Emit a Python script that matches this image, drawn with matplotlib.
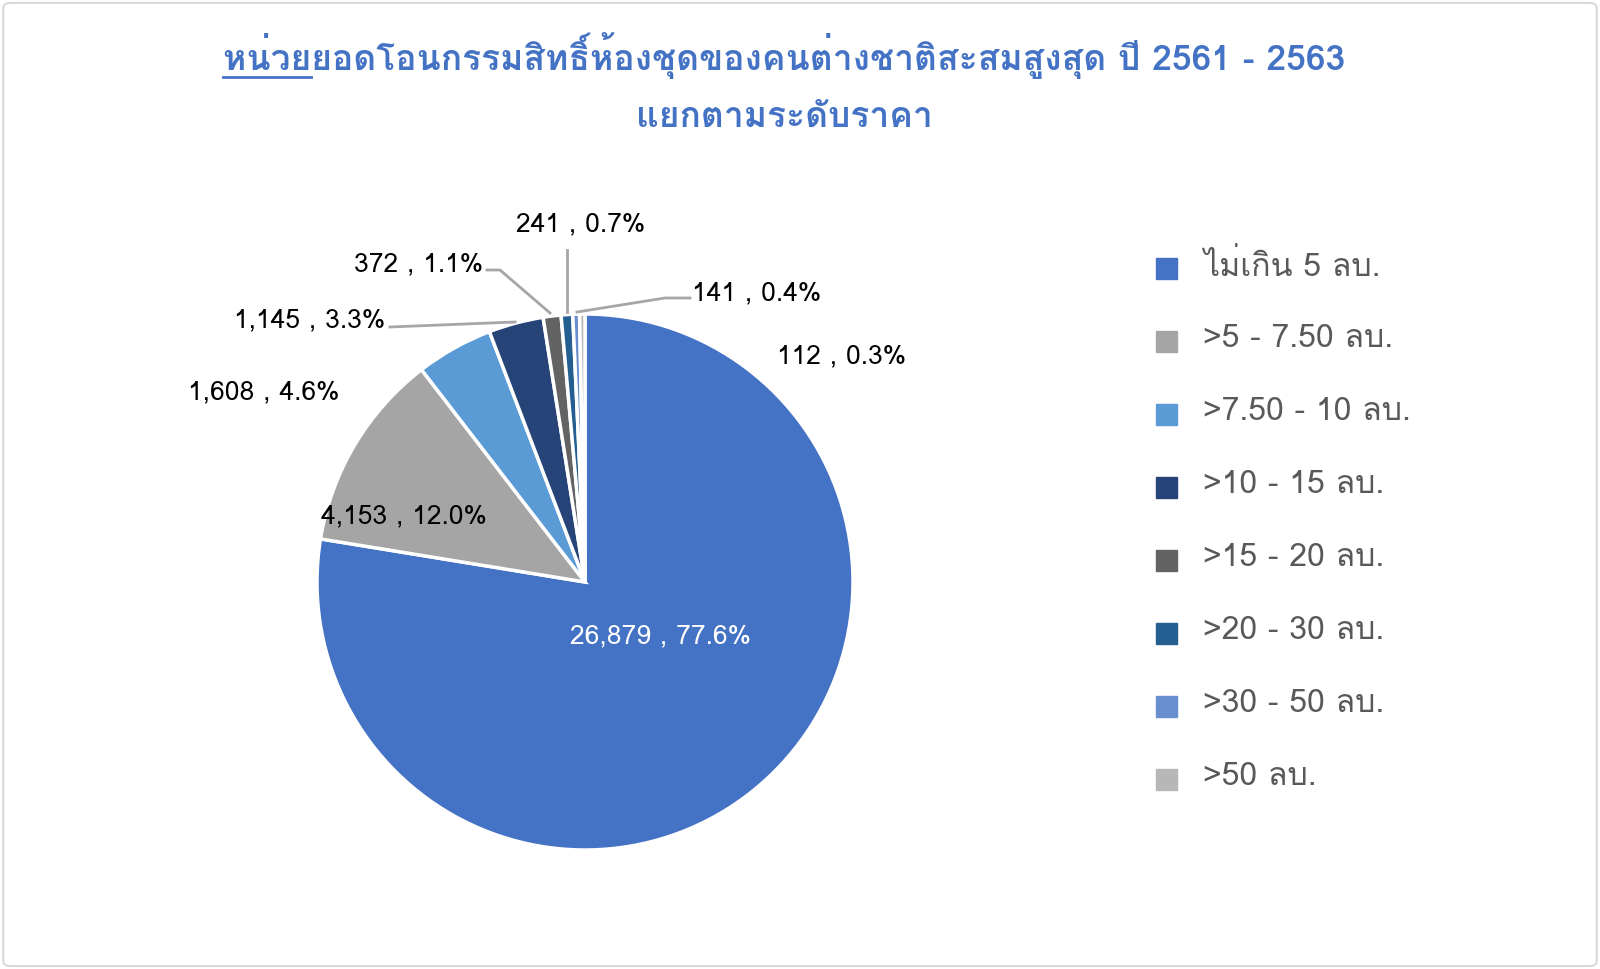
import matplotlib
matplotlib.use("Agg")
import matplotlib.pyplot as plt
from matplotlib import font_manager
from matplotlib.patches import Rectangle, FancyBboxPatch
from fontTools.ttLib import TTFont

# หาฟอนต์ที่มีอักษรไทย
thai_fams = []
for f in font_manager.fontManager.ttflist:
    try:
        tt = TTFont(f.fname, fontNumber=0, lazy=True)
        cmap = tt.getBestCmap()
        if cmap and 0x0E2B in cmap and f.name not in thai_fams:
            thai_fams.append(f.name)
    except Exception:
        pass
fams = thai_fams[:1] + ['Liberation Sans', 'DejaVu Sans']
plt.rcParams['font.family'] = fams

categories = ['ไม่เกิน 5 ลบ.', '>5 - 7.50 ลบ.', '>7.50 - 10 ลบ.', '>10 - 15 ลบ.',
              '>15 - 20 ลบ.', '>20 - 30 ลบ.', '>30 - 50 ลบ.', '>50 ลบ.']
units = [26879, 4153, 1608, 1145, 372, 241, 141, 112]
colors = ['#4472C4', '#A5A5A5', '#5B9BD5', '#264478', '#636363', '#255E91', '#698ED0', '#B7B7B7']

W, H = 1600, 969
fig = plt.figure(figsize=(16, 9.69), dpi=100)
ax = fig.add_axes([0, 0, 1, 1])

cx, cy, r = 585, H - 582, 268
wedges, _ = ax.pie(units, colors=colors, startangle=90, counterclock=False,
                   center=(cx, cy), radius=r,
                   wedgeprops=dict(edgecolor='white', linewidth=2.5))
ax.set_xlim(0, W)
ax.set_ylim(0, H)
ax.set_aspect('equal')
ax.axis('off')

total = sum(units)
labels = [f"{v:,} , {v / total * 100:.1f}%" for v in units]

# ตำแหน่งป้าย (พิกเซล)
lab_pos = [(660, 636), (404, 516), (264, 392), (310, 320), (419, 264), (581, 224), (757, 293), (842, 356)]
lead = {
    3: [(390, 327), (515, 322)],
    4: [(487, 270), (500, 270), (550, 313)],
    5: [(567, 250), (567, 312)],
    6: [(577, 312), (665, 298), (690, 298)],
}
for i, (lab, (px, py)) in enumerate(zip(labels, lab_pos)):
    ax.text(px, H - py, lab, ha='center', va='center', fontsize=19,
            color='white' if i == 0 else 'black')
for i, pts in lead.items():
    ax.plot([p[0] for p in pts], [H - p[1] for p in pts], color='#A6A6A6', lw=2)

# legend
for i, (c, lab) in enumerate(zip(colors, categories)):
    y = H - (268 + i * 73)
    ax.add_patch(Rectangle((1156, y - 11), 21, 21, color=c))
    ax.text(1203, y + 2, lab, ha='left', va='center', fontsize=23, color='#595959')

# ชื่อกราฟ
tcol = '#4472C4'
tsize = 25.5
t1 = ax.text(784, H - 55, 'หน่วยยอดโอนกรรมสิทธิ์ห้องชุดของคนต่างชาติสะสมสูงสุด ปี 2561 - 2563',
             ha='center', va='center', fontsize=tsize, color=tcol, fontweight='bold')
ax.text(784, H - 118, 'แยกตามระดับราคา', ha='center', va='center', fontsize=tsize,
        color=tcol, fontweight='bold')
fig.canvas.draw()
rend = fig.canvas.get_renderer()
bb = t1.get_window_extent(rend)
tmp = ax.text(0, 0, 'หน่วย', fontsize=tsize, fontweight='bold')
w = tmp.get_window_extent(rend).width
tmp.remove()
ax.plot([bb.x0, bb.x0 + w], [bb.y0 + 2, bb.y0 + 2], color=tcol, lw=2)

fig.patches.append(FancyBboxPatch((0.002, 0.003), 0.996, 0.994, boxstyle='round,pad=0,rounding_size=0.005',
                                  transform=fig.transFigure, fill=False, edgecolor='#D9D9D9', lw=1.5))

fig.savefig('out.png', dpi=100, facecolor='white')
